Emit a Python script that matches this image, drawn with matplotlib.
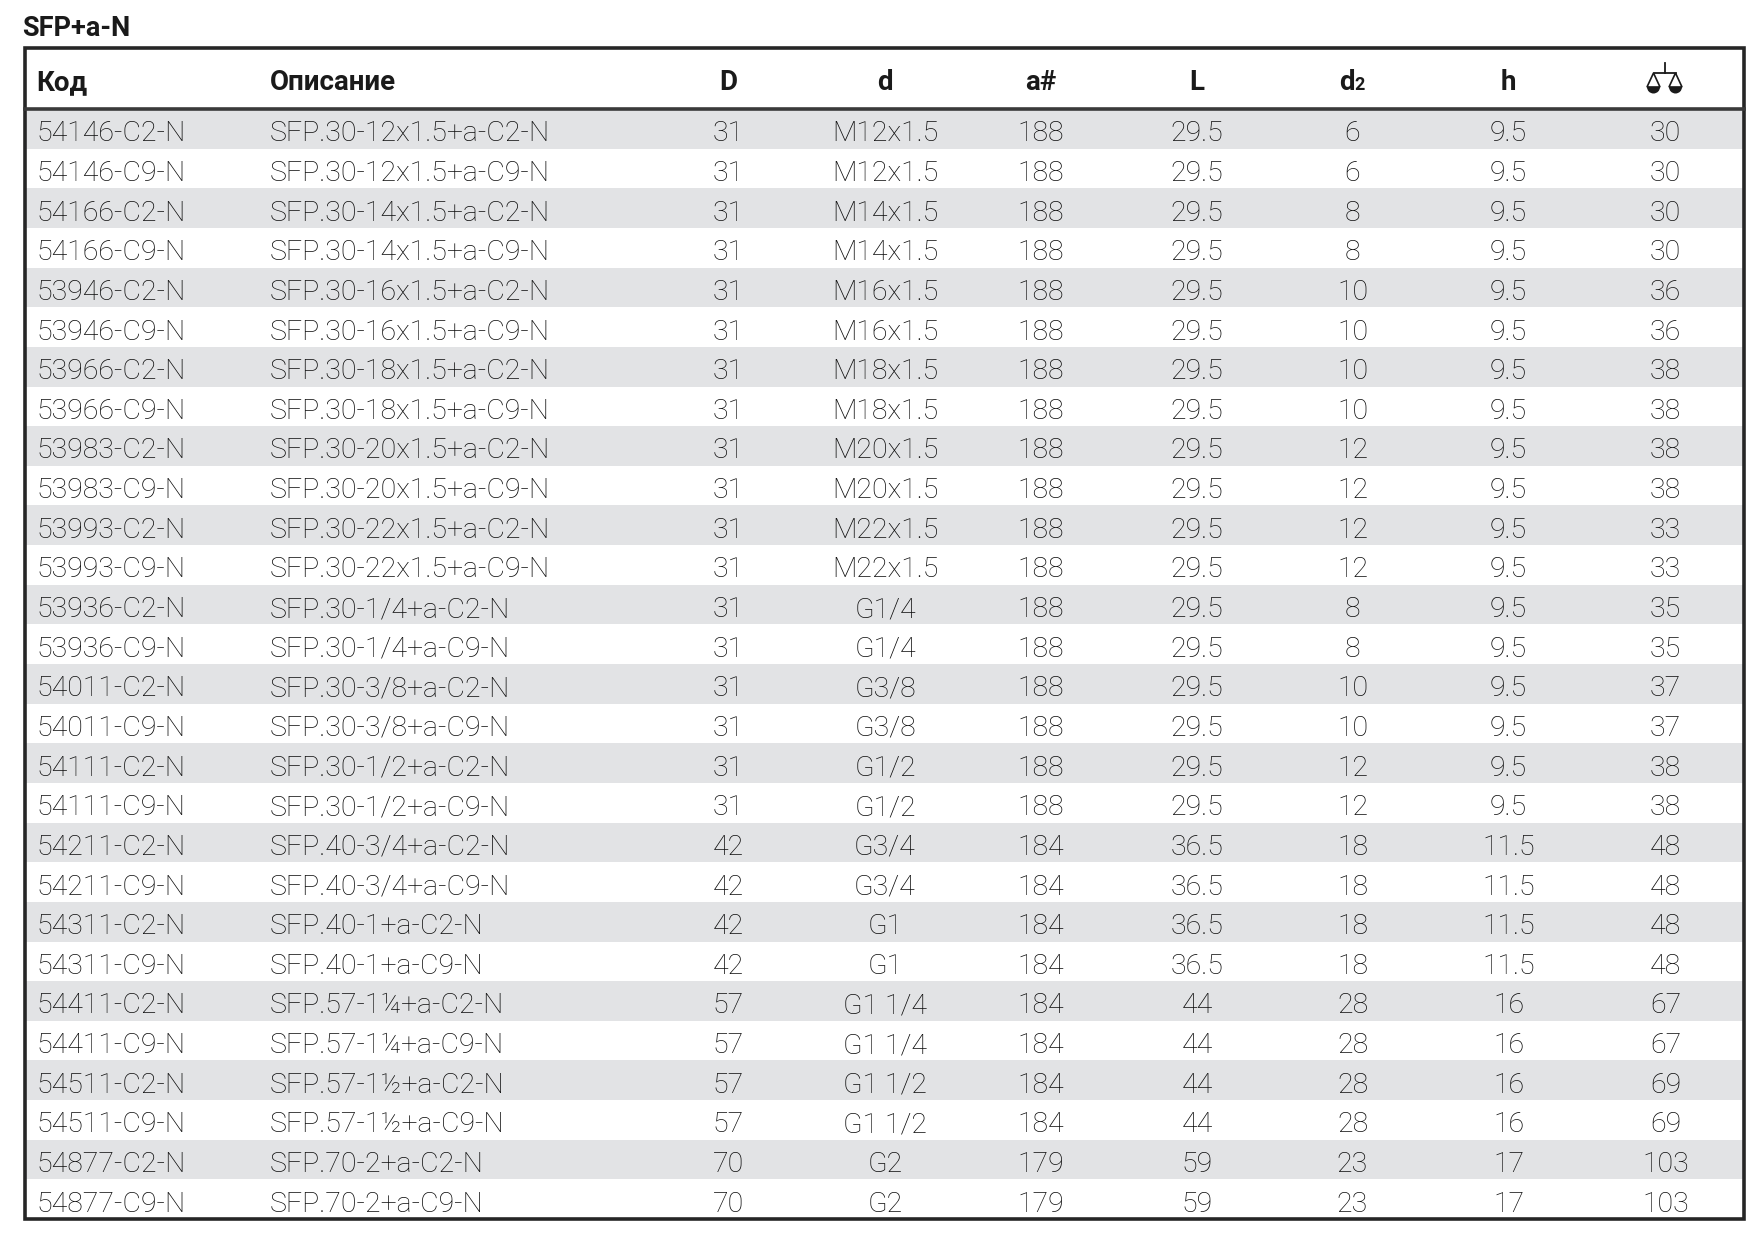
import matplotlib
matplotlib.use("Agg")
import matplotlib.pyplot as plt
from matplotlib.patches import Rectangle, Polygon, Wedge

# table data
codes = ["54146-C2-N", "54146-C9-N", "54166-C2-N", "54166-C9-N",
         "53946-C2-N", "53946-C9-N", "53966-C2-N", "53966-C9-N",
         "53983-C2-N", "53983-C9-N", "53993-C2-N", "53993-C9-N",
         "53936-C2-N", "53936-C9-N", "54011-C2-N", "54011-C9-N",
         "54111-C2-N", "54111-C9-N", "54211-C2-N", "54211-C9-N",
         "54311-C2-N", "54311-C9-N", "54411-C2-N", "54411-C9-N",
         "54511-C2-N", "54511-C9-N", "54877-C2-N", "54877-C9-N"]
descriptions = ["SFP.30-12x1.5+a-C2-N", "SFP.30-12x1.5+a-C9-N",
                "SFP.30-14x1.5+a-C2-N", "SFP.30-14x1.5+a-C9-N",
                "SFP.30-16x1.5+a-C2-N", "SFP.30-16x1.5+a-C9-N",
                "SFP.30-18x1.5+a-C2-N", "SFP.30-18x1.5+a-C9-N",
                "SFP.30-20x1.5+a-C2-N", "SFP.30-20x1.5+a-C9-N",
                "SFP.30-22x1.5+a-C2-N", "SFP.30-22x1.5+a-C9-N",
                "SFP.30-1/4+a-C2-N", "SFP.30-1/4+a-C9-N",
                "SFP.30-3/8+a-C2-N", "SFP.30-3/8+a-C9-N",
                "SFP.30-1/2+a-C2-N", "SFP.30-1/2+a-C9-N",
                "SFP.40-3/4+a-C2-N", "SFP.40-3/4+a-C9-N",
                "SFP.40-1+a-C2-N", "SFP.40-1+a-C9-N",
                "SFP.57-1¼+a-C2-N", "SFP.57-1¼+a-C9-N",
                "SFP.57-1½+a-C2-N", "SFP.57-1½+a-C9-N",
                "SFP.70-2+a-C2-N", "SFP.70-2+a-C9-N"]
D_vals = [31] * 18 + [42] * 4 + [57] * 4 + [70] * 2
d_vals = ["M12x1.5", "M12x1.5", "M14x1.5", "M14x1.5", "M16x1.5", "M16x1.5",
          "M18x1.5", "M18x1.5", "M20x1.5", "M20x1.5", "M22x1.5", "M22x1.5",
          "G1/4", "G1/4", "G3/8", "G3/8", "G1/2", "G1/2", "G3/4", "G3/4",
          "G1", "G1", "G1 1/4", "G1 1/4", "G1 1/2", "G1 1/2", "G2", "G2"]
a_vals = [188] * 18 + [184] * 8 + [179] * 2
L_vals = ["29.5"] * 18 + ["36.5"] * 4 + ["44"] * 4 + ["59"] * 2
d2_vals = [6, 6, 8, 8, 10, 10, 10, 10, 12, 12, 12, 12, 8, 8, 10, 10, 12, 12,
           18, 18, 18, 18, 28, 28, 28, 28, 23, 23]
h_vals = ["9.5"] * 18 + ["11.5"] * 4 + ["16"] * 4 + ["17"] * 2
weights = [30, 30, 30, 30, 36, 36, 38, 38, 38, 38, 33, 33, 35, 35, 37, 37,
           38, 38, 48, 48, 48, 48, 67, 67, 69, 69, 103, 103]

W, H = 1764, 1238
col_edges = [25, 259, 650, 807, 963, 1119, 1275, 1430, 1587, 1744]
top, head_bot, bottom = 48, 109, 1219
n_rows = len(codes)
row_h = (bottom - head_bot) / n_rows

text_col = "#0c0c0c"
shade = "#e2e3e5"
line_col = "#262626"
font = ["Roboto", "DejaVu Sans"]

fig = plt.figure(figsize=(W / 100, H / 100), dpi=100)
ax = fig.add_axes([0, 0, 1, 1])
ax.set_xlim(0, W)
ax.set_ylim(H, 0)
ax.axis("off")

ax.text(22, 28, "SFP+a-N", fontsize=19.5, fontweight="bold", color="#1a1a1a",
        family=font, va="center", ha="left")

# row backgrounds
for i in range(n_rows):
    y0 = head_bot + i * row_h
    if i % 2 == 0:
        ax.add_patch(Rectangle((col_edges[0], y0), col_edges[-1] - col_edges[0],
                               row_h, facecolor=shade, edgecolor="none", zorder=1))

# header
head_y = (top + head_bot) / 2 + 4
centers = [(col_edges[k] + col_edges[k + 1]) / 2 for k in range(len(col_edges) - 1)]
hkw = dict(fontsize=20, fontweight="bold", color="#1a1a1a", family=font,
           va="center", zorder=3)
ax.text(36, head_y, "Код", ha="left", **hkw)
ax.text(270, head_y, "Описание", ha="left", **hkw)
for lab, cx in zip(["D", "d", "a#", "L"], centers[2:6]):
    ax.text(cx, head_y, lab, ha="center", **hkw)
ax.text(centers[6] + 2, head_y, "d", ha="right", **hkw)
ax.text(centers[6] + 2, head_y + 2, "2", ha="left", fontsize=13, fontweight="bold",
        color="#1a1a1a", family=font, va="center", zorder=3)
ax.text(centers[7], head_y, "h", ha="center", **hkw)

# balance icon for weight column
cx, iy = centers[8] - 1, 63
ax.plot([cx, cx], [iy, iy + 10], color="#1a1a1a", lw=1.3, zorder=3)
ax.plot([cx - 11, cx + 11], [iy + 10, iy + 10], color="#1a1a1a", lw=1.3, zorder=3)
for px in (cx - 11, cx + 11):
    ax.add_patch(Polygon([[px, iy + 10], [px - 6.5, iy + 24], [px + 6.5, iy + 24]],
                         closed=True, fill=False, edgecolor="#1a1a1a", lw=1.2, zorder=3))
    ax.add_patch(Wedge((px, iy + 24), 6.5, 0, 180, facecolor="#1a1a1a",
                       edgecolor="none", zorder=3))

# body text
rkw = dict(fontsize=20.5, fontweight="light", color=text_col, family=font,
           va="center", zorder=3)
for i in range(n_rows):
    yc = head_bot + (i + 0.5) * row_h + 5
    ax.text(36, yc, codes[i], ha="left", **rkw)
    ax.text(270, yc, descriptions[i], ha="left", **rkw)
    vals = [D_vals[i], d_vals[i], a_vals[i], L_vals[i], d2_vals[i], h_vals[i], weights[i]]
    for v, cxx in zip(vals, centers[2:]):
        ax.text(cxx, yc, str(v), ha="center", **rkw)

# borders
ax.add_patch(Rectangle((col_edges[0], top), col_edges[-1] - col_edges[0], bottom - top,
                       fill=False, edgecolor=line_col, lw=2.6, zorder=4))
ax.plot([col_edges[0], col_edges[-1]], [head_bot, head_bot], color="#3a3a3a",
        lw=2.6, zorder=4)

fig.savefig("out.png", dpi=100, facecolor="white")
